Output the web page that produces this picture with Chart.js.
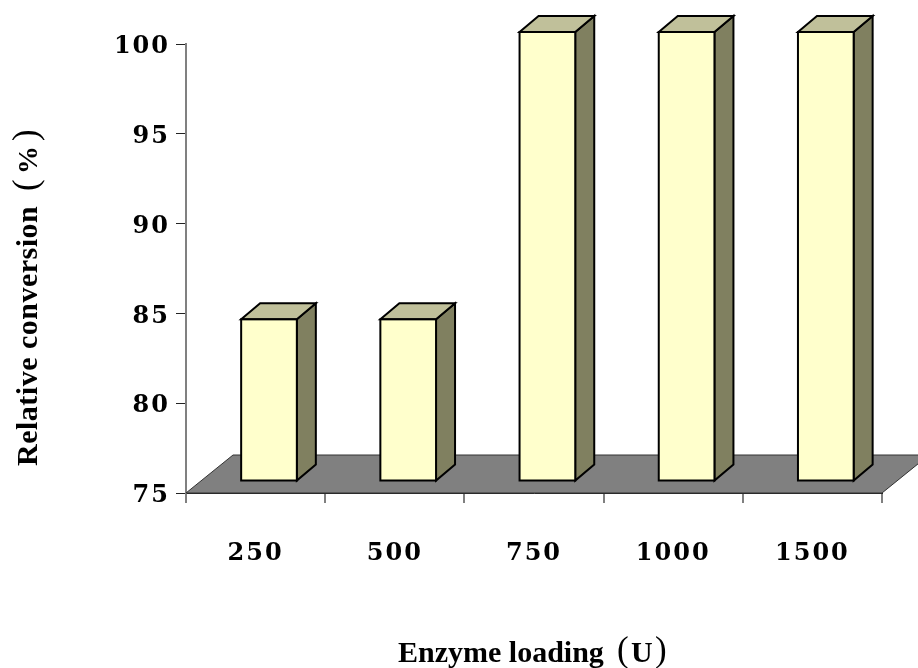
<!DOCTYPE html>
<html>
<head>
<meta charset="utf-8">
<style>
  html, body { margin: 0; padding: 0; background: #fff; }
  #wrap { position: relative; width: 918px; height: 668px; }
</style>
<script src="https://cdn.jsdelivr.net/npm/chart.js@4"></script>
</head>
<body>
<div id="wrap"><canvas id="barChart" width="918" height="668"></canvas></div>
<script>
const loadings = ['250', '500', '750', '1000', '1500'];
const conversions = [84, 84, 100, 100, 100];
const yTicks = [75, 80, 85, 90, 95, 100];

const tickFont = { family: '"DejaVu Serif"', size: 24, weight: 'bold' };
const titleFont = 'bold 30px "Liberation Serif"';
const parenFont = '35px "Liberation Serif"';

// fake 3D look: floor depth, bar depth and where the bars sit on the floor
const floorDx = 47, floorDy = 38;
const barDx = 19, barDy = 16;
const shiftX = 13.4, shiftY = -12;

const box3d = {
    id: 'box3d',
    beforeUpdate(chart) {
        chart.ctx.letterSpacing = '2px';
    },
    beforeDatasetsDraw(chart) {
        const { ctx, chartArea: a } = chart;
        ctx.save();
        ctx.beginPath();
        ctx.moveTo(a.left, a.bottom);
        ctx.lineTo(a.left + floorDx, a.bottom - floorDy);
        ctx.lineTo(a.right + floorDx, a.bottom - floorDy);
        ctx.lineTo(a.right, a.bottom);
        ctx.closePath();
        ctx.fillStyle = '#808080';
        ctx.fill();
        ctx.strokeStyle = '#333333';
        ctx.lineWidth = 1;
        ctx.stroke();
        ctx.restore();
    },
    beforeDatasetDraw(chart, args) {
        const { ctx } = chart;
        ctx.save();
        ctx.translate(shiftX, shiftY);
        ctx.lineWidth = 2;
        ctx.strokeStyle = '#000';
        ctx.lineJoin = 'miter';
        args.meta.data.forEach(bar => {
            const left = bar.x - bar.width / 2, right = bar.x + bar.width / 2;
            // side face
            ctx.beginPath();
            ctx.moveTo(right, bar.y);
            ctx.lineTo(right + barDx, bar.y - barDy);
            ctx.lineTo(right + barDx, bar.base - barDy);
            ctx.lineTo(right, bar.base);
            ctx.closePath();
            ctx.fillStyle = '#808060';
            ctx.fill();
            ctx.stroke();
            // top face
            ctx.beginPath();
            ctx.moveTo(left, bar.y);
            ctx.lineTo(left + barDx, bar.y - barDy);
            ctx.lineTo(right + barDx, bar.y - barDy);
            ctx.lineTo(right, bar.y);
            ctx.closePath();
            ctx.fillStyle = '#C0C09A';
            ctx.fill();
            ctx.stroke();
        });
    },
    afterDatasetDraw(chart, args) {
        const { ctx } = chart;
        // outline of the front face, centred on the bar edge
        args.meta.data.forEach(bar => {
            ctx.strokeRect(bar.x - bar.width / 2, bar.y, bar.width, bar.base - bar.y);
        });
        ctx.restore();
    },
    afterDraw(chart) {
        const { ctx } = chart;
        ctx.save();
        ctx.fillStyle = '#000';
        ctx.textAlign = 'left';
        ctx.textBaseline = 'alphabetic';
        ctx.letterSpacing = '0px';
        // the brackets in the titles are thin and taller than the words
        ctx.font = titleFont;
        ctx.fillText('Enzyme loading', 398, 662);
        ctx.fillText('U', 631, 662);
        ctx.font = parenFont;
        ctx.fillText('(', 617, 661);
        ctx.fillText(')', 655, 661);
        ctx.translate(37, 466);
        ctx.rotate(-Math.PI / 2);
        ctx.font = titleFont;
        ctx.letterSpacing = '0.5px';
        ctx.fillText('Relative conversion', 0, 0);
        ctx.letterSpacing = '0px';
        ctx.font = 'bold 28px "Liberation Serif"';
        ctx.fillText('%', 292, 0);
        ctx.font = parenFont;
        ctx.fillText('(', 275, 0);
        ctx.fillText(')', 325, 0);
        ctx.restore();
    }
};

new Chart(document.getElementById('barChart').getContext('2d'), {
    type: 'bar',
    data: {
        labels: loadings,
        datasets: [{
            data: conversions,
            base: 75,
            backgroundColor: '#FFFFCC',
            borderWidth: 0,
            categoryPercentage: 0.4,
            barPercentage: 1,
            clip: false
        }]
    },
    plugins: [box3d],
    options: {
        responsive: false,
        animation: false,
        events: [],
        layout: { padding: { left: 0, right: 36, top: 44, bottom: 0 } },
        plugins: { legend: { display: false }, tooltip: { enabled: false } },
        scales: {
            x: {
                afterFit(scale) { scale.height = 175; },
                grid: { display: true, drawOnChartArea: false, color: '#808080', tickLength: 10, lineWidth: 2 },
                border: { color: '#222222', width: 1 },
                ticks: { color: '#000', font: tickFont, padding: 36, maxRotation: 0 }
            },
            y: {
                min: 75,
                max: 100,
                afterFit(scale) { scale.width = 186; },
                afterBuildTicks(scale) { scale.ticks = yTicks.map(value => ({ value })); },
                grid: { display: true, drawOnChartArea: false, color: '#222222', tickLength: 10, lineWidth: 1 },
                border: { color: '#808080', width: 2 },
                // empty first line pushes the number a few px under its tick
                ticks: {
                    color: '#000',
                    font: { ...tickFont, lineHeight: '6px' },
                    padding: 6,
                    callback: value => ['', String(value)]
                }
            }
        }
    }
});
</script>
</body>
</html>
